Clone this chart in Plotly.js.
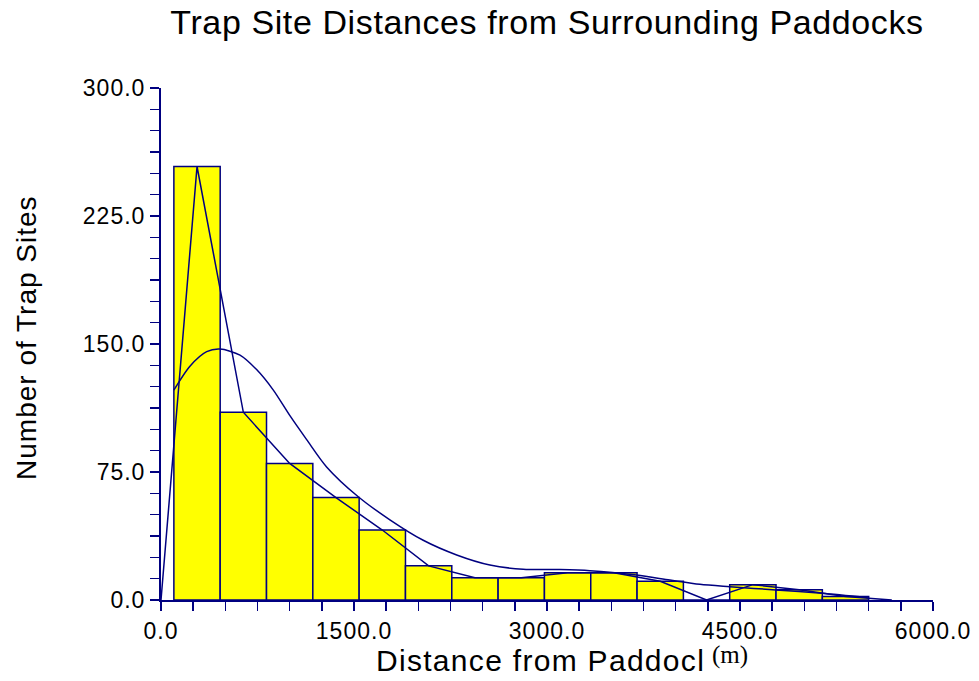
<!DOCTYPE html>
<html>
<head>
<meta charset="utf-8">
<script src="https://cdn.plot.ly/plotly-3.0.1.min.js"></script>
<style>
  html, body { margin: 0; padding: 0; background: #ffffff; }
  #chart { width: 979px; height: 681px; }
</style>
</head>
<body>
<div id="chart"></div>
<script>
// ---- data ----
const binCenters = [280, 640, 1000, 1360, 1720, 2080, 2440, 2800, 3160, 3520, 3880, 4240, 4600, 4960, 5320];
const binWidth = 360;
const counts = [254, 110, 80, 60, 41, 20, 13, 13, 16, 16, 11, 0, 9, 6, 2];

// frequency polygon end points (closing to zero)
const polyStartX = [0];
const polyEndX = [5680];

// smooth density curve (scaled to counts)
const curveX = [100, 225, 355, 458, 614, 743, 873, 1002, 1132, 1287, 1533, 1779, 2038, 2298, 2556, 2815, 3100, 3333, 3696, 3955, 4188, 4421, 4779, 5136, 5494];
const curveY = [123, 137, 145.5, 147, 143.5, 135, 123, 108, 94, 78, 60.5, 47, 35, 26.4, 20.5, 18, 17.8, 17.2, 14.6, 11.7, 9.2, 7.8, 5.9, 3.9, 1.4];

// tick labels
const xTickVals = [0, 1500, 3000, 4500, 6000];
const xTickText = ['0.0', '1500.0', '3000.0', '4500.0', '6000.0'];
const yTickVals = [0, 75, 150, 225, 300];
const yTickText = ['0.0', '75.0', '150.0', '225.0', '300.0'];

const titleText = 'Trap Site Distances from Surrounding Paddocks';
const xTitleText = 'Distance from Paddocl';
const xUnitText = '(m)';
const yTitleText = 'Number of Trap Sites';

// ---- styling ----
const NAVY = '#000080';
const SANS = 'Liberation Sans, Arial, sans-serif';
const spaced = (t, px) => '<span style="letter-spacing:' + px + 'px">' + t + '</span>';

const polyX = polyStartX.concat(binCenters, polyEndX);
const polyY = [0].concat(counts, [0]);

const traces = [
  {
    type: 'bar',
    x: binCenters,
    y: counts,
    width: binWidth,
    marker: { color: '#FFFF00', line: { color: NAVY, width: 1.5 } },
    hoverinfo: 'x+y'
  },
  {
    type: 'scatter',
    mode: 'lines',
    x: polyX,
    y: polyY,
    line: { color: NAVY, width: 1.5 },
    hoverinfo: 'x+y'
  },
  {
    type: 'scatter',
    mode: 'lines',
    x: curveX,
    y: curveY,
    line: { color: NAVY, width: 1.5, shape: 'spline', smoothing: 0.8 },
    hoverinfo: 'x+y'
  }
];

const axisCommon = {
  showline: true,
  linecolor: NAVY,
  linewidth: 2,
  showgrid: false,
  zeroline: false,
  ticks: 'outside',
  ticklen: 9,
  tickwidth: 1.5,
  tickcolor: NAVY,
  tickfont: { family: SANS, size: 23, color: '#000000' },
  tickmode: 'array',
  fixedrange: true
};

const layout = {
  width: 979,
  height: 681,
  margin: { l: 161, r: 46, t: 88, b: 81, pad: 0 },
  paper_bgcolor: '#ffffff',
  plot_bgcolor: '#ffffff',
  showlegend: false,
  bargap: 0,
  title: {
    text: spaced(titleText, 0.6),
    font: { family: SANS, size: 34, color: '#000000' },
    x: 0.5, xref: 'paper', xanchor: 'center',
    y: 0.968, yref: 'container', yanchor: 'middle'
  },
  xaxis: Object.assign({}, axisCommon, {
    range: [0, 6000],
    tickvals: xTickVals,
    ticktext: xTickText.map(t => spaced(t, 1)),
    minor: { tickmode: 'linear', tick0: 0, dtick: 250, ticks: 'outside', ticklen: 9, tickwidth: 1.5, tickcolor: NAVY, showgrid: false }
  }),
  yaxis: Object.assign({}, axisCommon, {
    range: [0, 300],
    tickvals: yTickVals,
    ticktext: yTickText.map(t => spaced(t, 1)),
    minor: { tickmode: 'linear', tick0: 0, dtick: 12.5, ticks: 'outside', ticklen: 9, tickwidth: 1.5, tickcolor: NAVY, showgrid: false }
  }),
  annotations: [
    {
      text: spaced(xTitleText, 1.3),
      xref: 'paper', yref: 'paper',
      x: 0.4922, y: -0.1185,
      xanchor: 'center', yanchor: 'middle',
      showarrow: false,
      font: { family: SANS, size: 30, color: '#000000' }
    },
    {
      text: xUnitText,
      xref: 'paper', yref: 'paper',
      x: 0.7115, y: -0.108,
      xanchor: 'left', yanchor: 'middle',
      showarrow: false,
      font: { family: 'Liberation Serif, Times New Roman, serif', size: 25, color: '#000000' }
    },
    {
      text: spaced(yTitleText, 1),
      xref: 'paper', yref: 'paper',
      x: -0.1736, y: 0.5137,
      xanchor: 'center', yanchor: 'middle',
      textangle: -90,
      showarrow: false,
      font: { family: SANS, size: 28, color: '#000000' }
    }
  ]
};

Plotly.newPlot('chart', traces, layout, { displayModeBar: false, staticPlot: true });
</script>
</body>
</html>
